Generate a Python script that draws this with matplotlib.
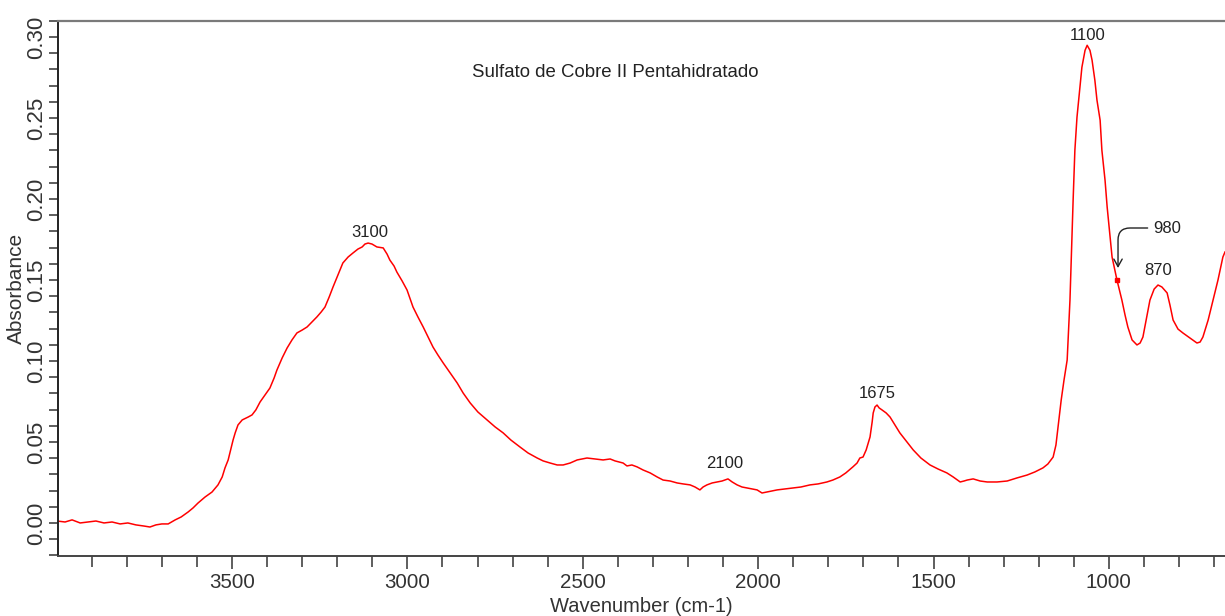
import matplotlib
matplotlib.use("Agg")
import matplotlib.pyplot as plt
from matplotlib.ticker import MultipleLocator, FormatStrFormatter

plt.rcParams['font.family'] = ['Liberation Sans', 'DejaVu Sans']

# IR spectrum of copper(II) sulfate pentahydrate
wavenumber = [
    3999, 3976, 3956, 3933, 3910, 3888, 3865, 3842, 3819, 3797,
    3774, 3751, 3734, 3717, 3700, 3682, 3662, 3645, 3625, 3611,
    3597, 3577, 3557, 3540, 3528, 3520, 3511, 3506, 3497, 3491,
    3483, 3471, 3454, 3443, 3432, 3420, 3406, 3392, 3380, 3372,
    3357, 3343, 3329, 3315, 3300, 3286, 3272, 3258, 3246, 3235,
    3223, 3212, 3198, 3184, 3169, 3155, 3141, 3129, 3121, 3112,
    3101, 3087, 3069, 3058, 3050, 3038, 3030, 3015, 3001, 2992,
    2984, 2970, 2955, 2941, 2927, 2913, 2898, 2878, 2858, 2841,
    2821, 2799, 2773, 2750, 2727, 2705, 2679, 2656, 2630, 2613,
    2593, 2573, 2556, 2536, 2516, 2502, 2488, 2465, 2442, 2422,
    2408, 2385, 2374, 2360, 2345, 2328, 2308, 2288, 2271, 2251,
    2231, 2214, 2194, 2180, 2166, 2157, 2146, 2131, 2117, 2103,
    2086, 2074, 2060, 2046, 2032, 2017, 2003, 1989, 1975, 1960,
    1946, 1923, 1901, 1878, 1852, 1829, 1804, 1787, 1767, 1750,
    1730, 1718, 1710, 1701, 1692, 1681, 1675, 1672, 1667, 1661,
    1655, 1647, 1635, 1624, 1610, 1596, 1578, 1558, 1536, 1510,
    1487, 1462, 1444, 1424, 1413, 1404, 1387, 1367, 1347, 1319,
    1290, 1262, 1233, 1211, 1188, 1174, 1159, 1151, 1145, 1136,
    1128, 1119, 1111, 1102, 1097, 1091, 1082, 1077, 1068, 1062,
    1054, 1048, 1040, 1034, 1025, 1020, 1011, 1005, 997, 991,
    977, 963, 954, 946, 934, 920, 911, 903, 891, 883,
    871, 860, 849, 834, 826, 817, 803, 789, 769, 749,
    740, 732, 717, 703, 689, 675, 669,
]
absorbance = [
    0.0012, 0.0006, 0.0019, 0.0000, 0.0006, 0.0012, 0.0000, 0.0006, -0.0006, 0.0000,
    -0.0012, -0.0019, -0.0025, -0.0012, -0.0006, -0.0006, 0.0019, 0.0037, 0.0068, 0.0093,
    0.0123, 0.0160, 0.0191, 0.0235, 0.0284, 0.0340, 0.0389, 0.0432, 0.0512, 0.0556,
    0.0605, 0.0636, 0.0654, 0.0667, 0.0698, 0.0747, 0.0790, 0.0833, 0.0895, 0.0944,
    0.1019, 0.1080, 0.1130, 0.1173, 0.1191, 0.1210, 0.1241, 0.1272, 0.1302, 0.1333,
    0.1395, 0.1457, 0.1531, 0.1605, 0.1642, 0.1667, 0.1691, 0.1704, 0.1722, 0.1728,
    0.1722, 0.1704, 0.1698, 0.1660, 0.1623, 0.1586, 0.1549, 0.1494, 0.1438, 0.1383,
    0.1333, 0.1272, 0.1210, 0.1148, 0.1086, 0.1037, 0.0988, 0.0926, 0.0864, 0.0802,
    0.0741, 0.0685, 0.0636, 0.0593, 0.0556, 0.0512, 0.0469, 0.0432, 0.0401, 0.0383,
    0.0370, 0.0358, 0.0358, 0.0370, 0.0389, 0.0395, 0.0401, 0.0395, 0.0389, 0.0395,
    0.0383, 0.0370, 0.0352, 0.0358, 0.0346, 0.0327, 0.0309, 0.0284, 0.0265, 0.0259,
    0.0247, 0.0241, 0.0235, 0.0222, 0.0204, 0.0222, 0.0235, 0.0247, 0.0253, 0.0259,
    0.0272, 0.0253, 0.0235, 0.0222, 0.0216, 0.0210, 0.0204, 0.0185, 0.0191, 0.0198,
    0.0204, 0.0210, 0.0216, 0.0222, 0.0235, 0.0241, 0.0253, 0.0265, 0.0284, 0.0309,
    0.0346, 0.0370, 0.0401, 0.0407, 0.0451, 0.0531, 0.0623, 0.0679, 0.0716, 0.0728,
    0.0710, 0.0698, 0.0679, 0.0654, 0.0605, 0.0556, 0.0506, 0.0451, 0.0401, 0.0358,
    0.0333, 0.0309, 0.0284, 0.0253, 0.0259, 0.0265, 0.0272, 0.0259, 0.0253, 0.0253,
    0.0259, 0.0278, 0.0296, 0.0315, 0.0340, 0.0364, 0.0407, 0.0481, 0.0593, 0.0759,
    0.0882, 0.1006, 0.1376, 0.1993, 0.2301, 0.2505, 0.2702, 0.2813, 0.2918, 0.2949,
    0.2918, 0.2857, 0.2733, 0.2610, 0.2486, 0.2301, 0.2116, 0.1951, 0.1778, 0.1642,
    0.1500, 0.1376, 0.1284, 0.1210, 0.1130, 0.1099, 0.1111, 0.1148, 0.1284, 0.1376,
    0.1444, 0.1469, 0.1457, 0.1420, 0.1346, 0.1253, 0.1197, 0.1173, 0.1142, 0.1111,
    0.1117, 0.1148, 0.1253, 0.1376, 0.1500, 0.1642, 0.1673,
]

# Peak labels and where they are written
peak_labels = ["3100", "2100", "1675", "1100", "870"]
peak_label_x = [3107, 2094, 1661, 1062, 860]
peak_label_y = [0.1796, 0.0370, 0.0802, 0.3012, 0.1556]

# Shoulder marked with an arrow
shoulder_label = "980"
shoulder_text_xy = (834, 0.1821)
shoulder_tip_xy = (974, 0.1574)
shoulder_point = (977, 0.1500)

title = "Sulfato de Cobre II Pentahidratado"
x_label = "Wavenumber (cm-1)"
y_label = "Absorbance"

fig = plt.figure(figsize=(12.25, 6.16), dpi=100)
ax = fig.add_axes([0.0471, 0.0974, 0.9529, 0.8693])

ax.plot(wavenumber, absorbance, color="#ff0000", lw=1.1)
ax.plot([shoulder_point[0]], [shoulder_point[1]], marker="s", ms=3.5,
        color="#ff0000", ls="none")

ax.set_xlim(3997, 669)
ax.set_ylim(-0.0204, 0.3102)

text_color = "#222222"
for lab, x, y in zip(peak_labels, peak_label_x, peak_label_y):
    ax.text(x, y, lab, ha="center", va="center", fontsize=12, color=text_color)

ax.annotate(shoulder_label, xy=shoulder_tip_xy, xytext=shoulder_text_xy,
            ha="center", va="center", fontsize=12, color=text_color,
            arrowprops=dict(arrowstyle="->,head_length=0.45,head_width=0.25",
                            color="#222222", lw=1.0, shrinkA=2, shrinkB=0,
                            connectionstyle="angle,angleA=0,angleB=90,rad=12"))

fig.text(0.502, 0.883, title, ha="center", va="center", fontsize=13.4,
         color=text_color)

# Axes styling
ax.xaxis.set_major_locator(MultipleLocator(500))
ax.xaxis.set_minor_locator(MultipleLocator(100))
ax.xaxis.set_major_formatter(FormatStrFormatter("%d"))
ax.yaxis.set_major_locator(MultipleLocator(0.05))
ax.yaxis.set_minor_locator(MultipleLocator(0.01))
ax.yaxis.set_major_formatter(FormatStrFormatter("%.2f"))

ax.tick_params(axis="x", which="major", length=9.5, width=1.1, pad=3,
               labelsize=14.8, labelcolor="#333333", color="#333333")
ax.tick_params(axis="x", which="minor", length=8, width=1.1, color="#333333")
ax.tick_params(axis="y", which="both", length=6.5, width=1.1, pad=1,
               labelsize=16, labelcolor="#333333", color="#333333",
               labelrotation=90)
for lbl in ax.get_yticklabels():
    lbl.set_va("center")

ax.spines["right"].set_visible(False)
ax.spines["top"].set_color("#7a7a7a")
ax.spines["top"].set_linewidth(1.6)
ax.spines["left"].set_linewidth(1.4)
ax.spines["bottom"].set_linewidth(1.4)
ax.spines["left"].set_color("#222222")
ax.spines["bottom"].set_color("#444444")

ax.set_xlabel(x_label, fontsize=14.5, color="#333333", labelpad=3)
ax.set_ylabel(y_label, fontsize=15, color="#333333", labelpad=0)

fig.savefig("out.png", dpi=100)
